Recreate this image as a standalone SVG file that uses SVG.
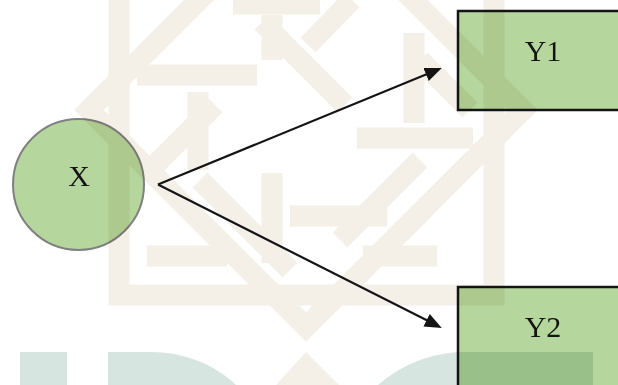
<svg xmlns="http://www.w3.org/2000/svg" width="618" height="385" viewBox="0 0 618 385">
<style>
.wm{fill:none;stroke:#f4f0e8;stroke-width:21;stroke-linejoin:miter}
.wt{fill:#d6e5df;stroke:none}
.node{fill:#b5d69c;mix-blend-mode:multiply}
.lbl{font-family:"Liberation Serif","Times New Roman",serif;font-size:30px;fill:#141414;text-anchor:middle}
.edge{fill:none;stroke:#141414;stroke-width:2.2}
</style>
<defs>
<marker id="ah" markerUnits="userSpaceOnUse" markerWidth="18" markerHeight="14" refX="13" refY="7" orient="auto">
<path d="M0,0 L17,7 L0,14 Z" fill="#141414"/>
</marker>
</defs>
<rect x="0" y="0" width="618" height="385" fill="#ffffff"/>
<g id="watermark">
<path class="wm" d="M119,-20 V295 H494 V-20"/>
<path class="wm" d="M209,-10 L89,110 L306,327 L523,110 L403,-10"/>
<path class="wm" d="M198,92 V170 M414,33 V123 M137,75 H257 M357,138 H473 M290,216 H387 M272,173 V263 M147,256 H227 M363,256 H437 M272,15 V60 M233,4 H320 M262,22 L345,105 M308,45 L352,0 M150,170 L215,105 M340,240 L420,160 M200,180 L290,270 M420,60 L470,110"/>
<path d="M276,385 L306,352 L339,385 Z" fill="#f4f0e8"/>
<rect class="wt" x="20" y="352" width="47" height="33"/>
<path class="wt" d="M108,352 H150 C185,352 215,365 236,385 H108 Z"/>
<path class="wt" d="M378,385 C400,366 425,355 457,352 H593 V385 Z"/>
</g>
<g id="connectors">
<path class="edge" d="M158,184.5 L438.1,69.6" marker-end="url(#ah)"/>
<path class="edge" d="M158,184.5 L438.2,326.1" marker-end="url(#ah)"/>
</g>
<g id="node-x">
<circle class="node" cx="78.5" cy="184.5" r="65.5" stroke="#808080" stroke-width="2"/>
<text class="lbl" x="79" y="186">X</text>
</g>
<g id="node-y1">
<rect class="node" x="458" y="11" width="170" height="99" stroke="#141414" stroke-width="2.5"/>
<text class="lbl" x="543" y="60.5">Y1</text>
</g>
<g id="node-y2">
<rect class="node" x="458" y="287" width="170" height="120" stroke="#141414" stroke-width="2.5"/>
<text class="lbl" x="543" y="336.5">Y2</text>
</g>
</svg>
